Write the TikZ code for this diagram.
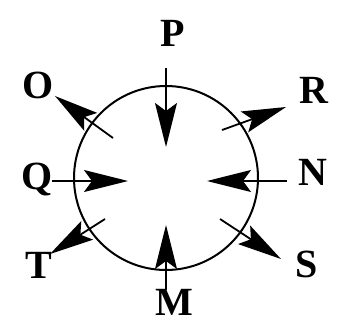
\documentclass[tikz,border=0pt]{standalone}
\usepackage{fontspec}
\setmainfont{Liberation Serif}
\usetikzlibrary{arrows.meta}
\begin{document}
\begin{tikzpicture}[x=1pt,y=-1pt,
  lbl/.style={anchor=base,inner sep=0pt,font=\fontsize{40}{40}\selectfont\bfseries},
  arr/.style={line width=1.8pt,-{Stealth[length=44pt,width=22pt,inset=8pt]}},
  ring/.style={line width=2pt}]
\useasboundingbox (0,0) rectangle (361,324);
\node[ring,draw,circle,minimum size=184pt,inner sep=0pt] (c) at (166,178) {};
% labels
\node[lbl] (P) at (172.5,46) {P};
\node[lbl] (M) at (174,315) {M};
\node[lbl] (Q) at (37.5,189) {Q};
\node[lbl] (N) at (312.5,185) {N};
\node[lbl] (O) at (38,98) {O};
\node[lbl] (R) at (314,103) {R};
\node[lbl] (S) at (307,277) {S};
\node[lbl] (T) at (38.5,278) {T};
% arrow ends
\coordinate (p1) at (166,68);  \coordinate (p2) at (166,147);
\coordinate (m1) at (166,290); \coordinate (m2) at (166,225);
\coordinate (q1) at (52,181);  \coordinate (q2) at (128,181);
\coordinate (n1) at (287,181); \coordinate (n2) at (207,181);
\coordinate (o1) at (113,138); \coordinate (o2) at (55,96);
\coordinate (r1) at (222,130); \coordinate (r2) at (286,107);
\coordinate (s1) at (220,219); \coordinate (s2) at (281,259);
\coordinate (t1) at (105,219); \coordinate (t2) at (50,254);
\draw[arr] (p1) -- (p2);
\draw[arr] (m1) -- (m2);
\draw[arr] (q1) -- (q2);
\draw[arr] (n1) -- (n2);
\draw[arr] (o1) -- (o2);
\draw[arr] (r1) -- (r2);
\draw[arr] (s1) -- (s2);
\draw[arr] (t1) -- (t2);
\end{tikzpicture}
\end{document}
